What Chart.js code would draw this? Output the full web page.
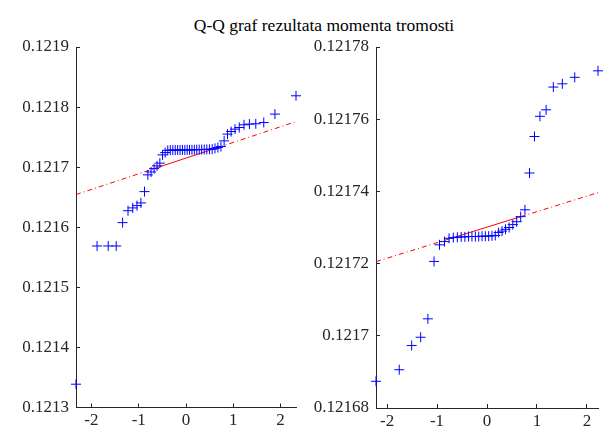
<!DOCTYPE html>
<html>
<head>
<meta charset="utf-8">
<script src="https://cdn.jsdelivr.net/npm/chart.js@4/dist/chart.umd.min.js"></script>
<style>
  body { margin: 0; background: #fff; }
  #wrap { position: relative; width: 604px; height: 432px; overflow: hidden; }
  #title {
    position: absolute; left: 124px; width: 400px; top: 15px;
    text-align: center; font: 17.5px "Liberation Serif", serif;
    line-height: 20px; color: #000;
  }
  .pane { position: absolute; top: 0; width: 302px; height: 432px; }
</style>
</head>
<body>
<div id="wrap">
  <div id="title">Q-Q graf rezultata momenta tromosti</div>
  <div class="pane" style="left:0"><canvas id="leftChart" width="302" height="432"></canvas></div>
  <div class="pane" style="left:302px"><canvas id="rightChart" width="302" height="432"></canvas></div>
</div>
<script>
// ---- left panel: 50 samples ----
const leftQuantiles = [
  -2.3263, -1.8808, -1.6449, -1.4758, -1.3408, -1.2265, -1.1264, -1.0364, -0.9542, -0.8779,
  -0.8064, -0.7388, -0.6745, -0.6128, -0.5534, -0.4959, -0.4399, -0.3853, -0.3319, -0.2793,
  -0.2275, -0.1764, -0.1257, -0.0753, -0.0251, 0.0251, 0.0753, 0.1257, 0.1764, 0.2275,
  0.2793, 0.3319, 0.3853, 0.4399, 0.4959, 0.5534, 0.6128, 0.6745, 0.7388, 0.8064,
  0.8779, 0.9542, 1.0364, 1.1264, 1.2265, 1.3408, 1.4758, 1.6449, 1.8808, 2.3263
];
const leftValues = [
  0.1213388, 0.1215688, 0.1215688, 0.1215688, 0.1216077, 0.1216275, 0.1216322, 0.1216360, 0.1216405, 0.1216593,
  0.1216872, 0.1216920, 0.1216975, 0.1217022, 0.1217067, 0.1217205, 0.1217243, 0.1217280, 0.1217283, 0.1217284,
  0.1217285, 0.1217286, 0.1217286, 0.1217287, 0.1217287, 0.1217288, 0.1217288, 0.1217289, 0.1217290, 0.1217291,
  0.1217292, 0.1217293, 0.1217294, 0.1217296, 0.1217297, 0.1217300, 0.1217313, 0.1217327, 0.1217343, 0.1217438,
  0.1217550, 0.1217593, 0.1217633, 0.1217660, 0.1217705, 0.1217717, 0.1217722, 0.1217743, 0.1217883, 0.1218188
];
const leftYTicks = [0.1213, 0.1214, 0.1215, 0.1216, 0.1217, 0.1218, 0.1219];
const leftYLabels = ["0.1213", "0.1214", "0.1215", "0.1216", "0.1217", "0.1218", "0.1219"];

// ---- right panel: 38 samples ----
const rightQuantiles = [
  -2.2218, -1.7563, -1.5078, -1.3277, -1.1830, -1.0598, -0.9506, -0.8513, -0.7595, -0.6745,
  -0.5939, -0.5167, -0.4427, -0.3712, -0.3012, -0.2328, -0.1656, -0.0991, -0.0330, 0.0330,
  0.0991, 0.1656, 0.2328, 0.3012, 0.3712, 0.4427, 0.5167, 0.5939, 0.6745, 0.7595,
  0.8513, 0.9506, 1.0598, 1.1830, 1.3277, 1.5078, 1.7563, 2.2218
];
const rightValues = [
  0.1216874, 0.1216906, 0.1216973, 0.1216996, 0.1217047, 0.1217206, 0.1217252, 0.1217261, 0.1217270, 0.1217272,
  0.1217273, 0.1217274, 0.1217274, 0.1217275, 0.1217275, 0.1217275, 0.1217275, 0.1217276, 0.1217276, 0.1217276,
  0.1217277, 0.1217278, 0.1217286, 0.1217290, 0.1217295, 0.1217300, 0.1217308, 0.1217316, 0.1217330, 0.1217349,
  0.1217451, 0.1217552, 0.1217608, 0.1217626, 0.1217689, 0.1217698, 0.1217716, 0.1217734
];
const rightYTicks = [0.12168, 0.1217, 0.12172, 0.12174, 0.12176, 0.12178];
const rightYLabels = ["0.12168", "0.1217", "0.12172", "0.12174", "0.12176", "0.12178"];

const xTicks = [-2, -1, 0, 1, 2];
const xLabels = ["-2", "-1", "0", "1", "2"];

// MATLAB-style percentile on sorted data
function prctile(arr, p) {
  const n = arr.length;
  let pos = n * p / 100 + 0.5;
  if (pos <= 1) return arr[0];
  if (pos >= n) return arr[n - 1];
  const lo = Math.floor(pos), f = pos - lo;
  return arr[lo - 1] + f * (arr[lo] - arr[lo - 1]);
}

const axisColor = "#262626";
const tickFont = { family: "'Liberation Serif', 'Times New Roman', serif", size: 17 };

function makeQQ(canvasId, xs, ys, yTicks, yLabels, yAxisWidth, xAxisHeight, padRight) {
  const q1x = prctile(xs, 25), q3x = prctile(xs, 75);
  const q1y = prctile(ys, 25), q3y = prctile(ys, 75);
  const slope = (q3y - q1y) / (q3x - q1x);
  const xmin = xs[0], xmax = xs[xs.length - 1];
  const lineAt = x => q1y + slope * (x - q1x);

  const pts = xs.map((x, i) => ({ x: x, y: ys[i] }));

  const redDash = {
    type: "line", borderColor: "#ff0000", borderWidth: 1,
    borderDash: [5, 3, 1, 3], pointRadius: 0, fill: false
  };

  new Chart(document.getElementById(canvasId), {
    type: "scatter",
    data: {
      datasets: [
        {
          data: pts, pointStyle: "cross", pointRadius: 5,
          borderColor: "#0000ff", backgroundColor: "#0000ff",
          borderWidth: 1, showLine: false, clip: false
        },
        Object.assign({ data: [{ x: xmin, y: lineAt(xmin) }, { x: q1x, y: q1y }] }, redDash),
        { type: "line", data: [{ x: q1x, y: q1y }, { x: q3x, y: q3y }],
          borderColor: "#ff0000", borderWidth: 1, pointRadius: 0, fill: false },
        Object.assign({ data: [{ x: q3x, y: q3y }, { x: xmax, y: lineAt(xmax) }] }, redDash)
      ]
    },
    options: {
      responsive: false,
      animation: false,
      events: [],
      layout: { padding: { top: 47, right: padRight, bottom: 0, left: 0 } },
      plugins: { legend: { display: false }, tooltip: { enabled: false } },
      scales: {
        x: {
          type: "linear",
          min: xmin, max: xmax,
          afterBuildTicks: s => { s.ticks = xTicks.map(v => ({ value: v })); },
          afterFit: s => { s.height = xAxisHeight; },
          ticks: {
            callback: (v, i) => xLabels[i],
            font: tickFont, color: axisColor, padding: 7, maxRotation: 0
          },
          grid: { drawOnChartArea: false, tickLength: -4, color: axisColor, lineWidth: 1 },
          border: { display: true, color: axisColor, width: 1 }
        },
        y: {
          type: "linear",
          min: yTicks[0], max: yTicks[yTicks.length - 1],
          afterBuildTicks: s => { s.ticks = yTicks.map(v => ({ value: v })); },
          afterFit: s => { s.width = yAxisWidth; },
          ticks: {
            callback: (v, i) => yLabels[i],
            font: tickFont, color: axisColor, padding: 11
          },
          grid: { drawOnChartArea: false, tickLength: -4, color: axisColor, lineWidth: 1 },
          border: { display: true, color: axisColor, width: 1 }
        }
      }
    }
  });
}

makeQQ("leftChart", leftQuantiles, leftValues, leftYTicks, leftYLabels, 76, 24.5, 4);
makeQQ("rightChart", rightQuantiles, rightValues, rightYTicks, rightYLabels, 74, 24, 6);
</script>
</body>
</html>
